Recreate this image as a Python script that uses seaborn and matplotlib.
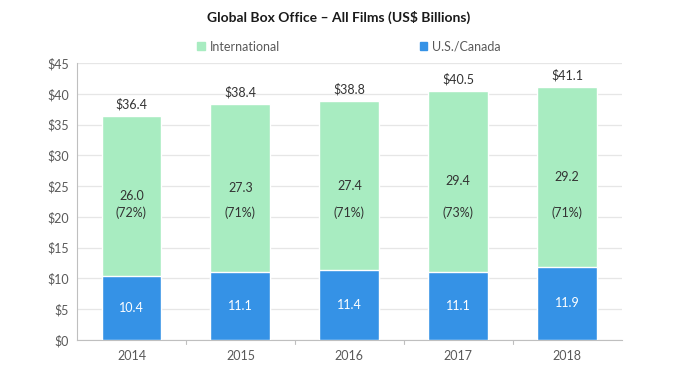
import pandas as pd
import matplotlib.pyplot as plt
import seaborn as sns
from matplotlib.patches import Patch

years = ['2014', '2015', '2016', '2017', '2018']
us_canada = [10.4, 11.1, 11.4, 11.1, 11.9]
international = [26.0, 27.3, 27.4, 29.4, 29.2]
intl_share = ['72%', '71%', '71%', '73%', '71%']
totals = [36.4, 38.4, 38.8, 40.5, 41.1]

green = '#a8ecc1'
blue = '#3592e6'

sns.set_style("white")
plt.rcParams['font.family'] = ['Lato', 'DejaVu Sans']

df = pd.DataFrame({'Year': years, 'US': us_canada, 'Intl': international, 'Total': totals})

fig = plt.figure(figsize=(6.78, 3.81), dpi=100)
ax = fig.add_axes([0.1136, 0.1076, 0.8034, 0.727])

# international stacked on top: draw total first, then U.S./Canada over it
sns.barplot(data=df, x='Year', y='Total', color=green, saturation=1, width=0.55, ax=ax, zorder=2)
sns.barplot(data=df, x='Year', y='US', color=blue, saturation=1, width=0.55, ax=ax, zorder=3)

for i in range(len(years)):
    ax.text(i, totals[i] + 0.9, f'${totals[i]:.1f}', ha='center', va='bottom', fontsize=9, color='#333333')
    ax.text(i, us_canada[i] + international[i] / 2, f'{international[i]:.1f}', ha='center', va='center',
            fontsize=9, color='#333333')
    ax.text(i, 20.6, f'({intl_share[i]})', ha='center', va='center', fontsize=9, color='#333333')
    ax.text(i, us_canada[i] / 2, f'{us_canada[i]:.1f}', ha='center', va='center', fontsize=9, color='white')

ax.set_ylim(0, 45)
ax.set_xlim(-0.5, 4.5)
ax.set_yticks(range(0, 50, 5))
ax.set_yticklabels([f'${v}' for v in range(0, 50, 5)])
ax.yaxis.grid(True, color='#e6e6e6', linewidth=0.9, zorder=0)
ax.set_axisbelow(True)
ax.set_xlabel('')
ax.set_ylabel('')
ax.tick_params(axis='both', colors='#595959', labelsize=9)
ax.tick_params(axis='y', length=3, color='#bfbfbf', pad=3)
ax.tick_params(axis='x', length=0, pad=7)
for x in [0.5, 1.5, 2.5, 3.5]:
    ax.plot([x, x], [0, -0.6], color='#bfbfbf', lw=0.8, clip_on=False)
for s in ['top', 'right']:
    ax.spines[s].set_visible(False)
ax.spines['left'].set_color('#bfbfbf')
ax.spines['bottom'].set_color('#bfbfbf')

fig.text(0.5, 0.955, 'Global Box Office \u2013 All Films (US$ Billions)', ha='center', va='center',
         fontsize=10, fontweight='bold', color='#1a1a1a')
handles = [Patch(color=green, label='International'), Patch(color=blue, label='U.S./Canada')]
leg = fig.legend(handles=handles, loc='center', bbox_to_anchor=(0.515, 0.877), ncol=2, frameon=False,
                 fontsize=9, handlelength=0.6, handleheight=0.6, handletextpad=0.4, columnspacing=11.2)
for t in leg.get_texts():
    t.set_color('#595959')

fig.savefig('out.png', dpi=100)
